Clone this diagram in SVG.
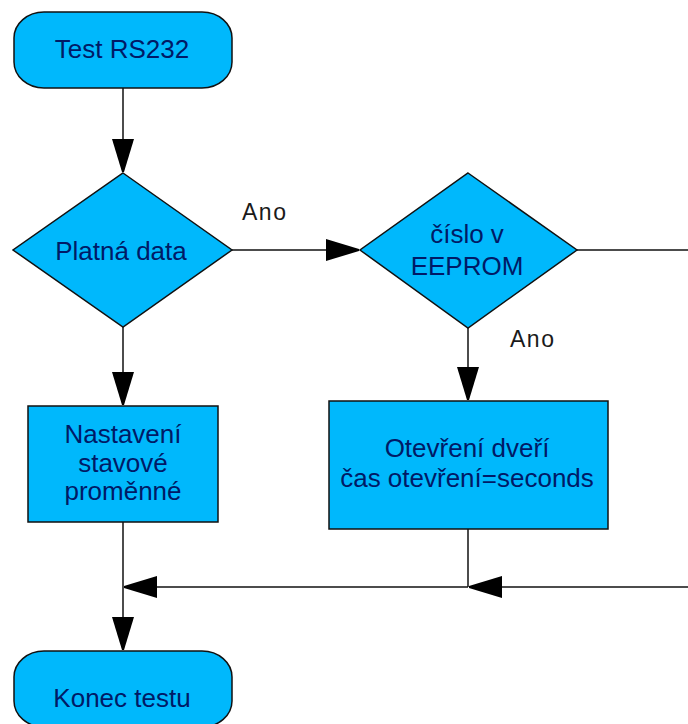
<svg xmlns="http://www.w3.org/2000/svg" width="688" height="724" viewBox="0 0 688 724">
  <style>
    .shape { fill: #00b8fc; stroke: #111; stroke-width: 1.5; }
    .label { font-family: "Liberation Sans", Arial, sans-serif; font-size: 26px; fill: #001a66; text-anchor: middle; }
    .note { font-family: "Liberation Sans", Arial, sans-serif; font-size: 23px; fill: #1a1a1a; letter-spacing: 1.5px; }
    .wire { fill: none; stroke: #111; stroke-width: 1.5; }
    .wire.arrow { marker-end: url(#head); }
  </style>
  <defs>
    <marker id="head" viewBox="0 0 33 22" refX="33" refY="11" markerWidth="33" markerHeight="22" markerUnits="userSpaceOnUse" orient="auto">
      <path d="M0,0 L33,10 L33,12 L0,22 Z" fill="#000"/>
    </marker>
  </defs>
  <rect width="688" height="724" fill="#fff"/>

  <!-- connectors -->
  <g id="connectors">
    <path class="wire arrow" d="M123,88 L123,172"/>
    <path class="wire arrow" d="M232,250 L359,250"/>
    <path class="wire arrow" d="M123,327 L123,405"/>
    <path class="wire arrow" d="M468,328 L468,400"/>
    <path class="wire" d="M577,250 L688,250"/>
    <path class="wire arrow" d="M688,587 L469,587"/>
    <path class="wire" d="M468,529 L468,587"/>
    <path class="wire arrow" d="M468,587 L124,587"/>
    <path class="wire arrow" d="M123,522 L123,650"/>
    <text class="note" x="242" y="220">Ano</text>
    <text class="note" x="510" y="347">Ano</text>
  </g>

  <!-- start -->
  <g id="start">
    <rect class="shape" x="14" y="12" width="218" height="76" rx="30" ry="26"/>
    <text class="label" x="122" y="58">Test RS232</text>
  </g>

  <!-- decision: valid data -->
  <g id="valid-data">
    <polygon class="shape" points="123,173 232,250 123,327 13,250"/>
    <text class="label" x="121" y="260">Platná data</text>
  </g>

  <!-- decision: number in EEPROM -->
  <g id="in-eeprom">
    <polygon class="shape" points="468,173 577,250 468,328 360,250"/>
    <text class="label" x="467" y="243">číslo v</text>
    <text class="label" x="467" y="275">EEPROM</text>
  </g>

  <!-- set state variable -->
  <g id="set-state">
    <rect class="shape" x="28" y="406" width="190" height="116"/>
    <text class="label" x="123" y="443">Nastavení</text>
    <text class="label" x="123" y="472">stavové</text>
    <text class="label" x="123" y="500">proměnné</text>
  </g>

  <!-- open door -->
  <g id="open-door">
    <rect class="shape" x="329" y="401" width="279" height="128"/>
    <text class="label" x="467" y="457">Otevření dveří</text>
    <text class="label" x="467" y="487">čas otevření=seconds</text>
  </g>

  <!-- end -->
  <g id="end">
    <rect class="shape" x="14" y="651" width="218" height="76" rx="30" ry="26"/>
    <text class="label" x="122" y="707">Konec testu</text>
  </g>
</svg>
